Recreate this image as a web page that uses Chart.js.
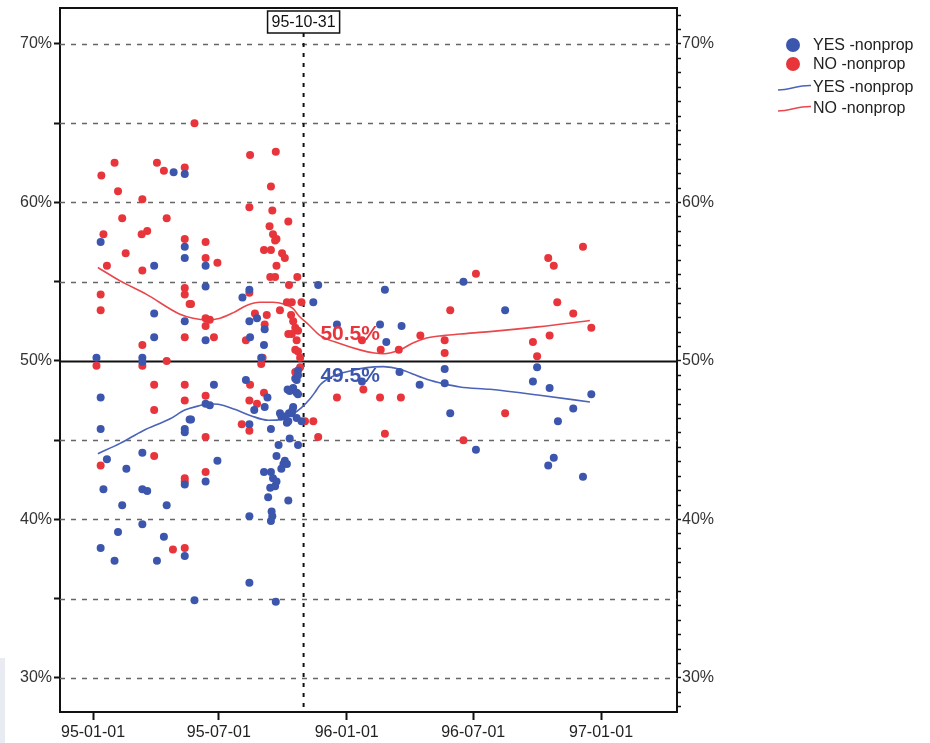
<!DOCTYPE html>
<html>
<head>
<meta charset="utf-8">
<script src="https://cdn.jsdelivr.net/npm/chart.js@4.4.1/dist/chart.umd.min.js"></script>
<style>
  html, body { margin: 0; padding: 0; background: #fff; }
  #wrap { position: relative; width: 930px; height: 743px; }
  #strip { position: absolute; left: 0; top: 658px; width: 5px; height: 85px; background: #e8ecf2; }
</style>
</head>
<body>
<div id="wrap">
  <canvas id="chart" width="930" height="743"></canvas>
  <div id="strip"></div>
</div>
<script>
// days counted from 95-01-01
const tickDays = [0, 181, 365, 547, 731];
const tickLabels = ['95-01-01', '95-07-01', '96-01-01', '96-07-01', '97-01-01'];
const cutoffDay = 303;
const cutoffLabel = '95-10-31';
const seriesNames = ['YES -nonprop', 'NO -nonprop'];
const curveTags = ['49.5%', '50.5%'];
const yGrid = [30, 35, 40, 45, 50, 55, 60, 65, 70];

// polls: [day, percent]
const yesPoints = [
  [116,61.9],[132,61.8],[11,57.5],[132,57.2],[132,56.5],[88,56.0],[88,53.0],[132,52.5],[88,51.5],[5,50.2],
  [71,50.2],[71,49.95],[11,47.7],[11,45.7],[132,45.7],[132,45.5],[139,46.3],[20,43.8],[48,43.2],[71,44.2],
  [15,41.9],[71,41.9],[78,41.8],[42,40.9],[106,40.9],[71,39.7],[36,39.2],[102,38.9],[11,38.2],[31,37.4],
  [92,37.4],[132,42.2],[132,37.7],[146,34.9],
  [162,56.0],[162,54.7],[215,54.0],[225,54.5],[225,52.5],[236,52.7],[247,52.0],[162,51.3],[226,51.5],[246,51.0],
  [242,50.2],[174,48.5],[220,48.8],[251,47.7],[291,48.9],[295,49.4],[288,48.3],[295,47.9],[283,48.1],[293,48.8],
  [295,49.1],[280,48.2],[293,48.0],[162,47.3],[168,47.2],[247,47.1],[232,46.9],[269,46.7],[271,46.5],[288,47.1],
  [286,46.7],[300,46.2],[276,46.5],[281,46.2],[282,46.7],[287,46.9],[293,46.4],[279,46.1],[256,45.7],[141,46.3],
  [225,46.0],[267,44.7],[264,44.0],[276,43.7],[274,43.5],[271,43.2],[279,43.5],[283,45.1],[295,44.7],[179,43.7],
  [246,43.0],[256,43.0],[259,42.6],[264,42.4],[262,42.1],[255,42.0],[252,41.4],[281,41.2],[162,42.4],[225,40.2],
  [257,40.5],[258,40.2],[256,39.9],[225,36.0],[263,34.8],
  [324,54.8],[317,53.7],[420,54.5],[533,55.0],[351,52.3],[413,52.3],[444,52.2],[422,51.2],[387,48.7],[441,49.3],
  [470,48.5],[506,49.5],[506,48.6],[514,46.7],[551,44.4],[593,53.2],[639,49.6],[633,48.7],[657,48.3],[717,47.9],
  [691,47.0],[669,46.2],[663,43.9],[655,43.4],[705,42.7]
];

const noPoints = [
  [12,61.7],[31,62.5],[36,60.7],[92,62.5],[102,62.0],[132,62.2],[71,60.2],[42,59.0],[106,59.0],[15,58.0],
  [70,58.0],[78,58.2],[47,56.8],[132,57.7],[20,56.0],[71,55.7],[11,54.2],[11,53.2],[132,54.6],[132,54.2],
  [139,53.6],[132,51.5],[71,51.0],[5,49.7],[71,49.7],[106,50.0],[88,48.5],[132,48.5],[88,46.9],[132,47.5],
  [88,44.0],[11,43.4],[132,42.6],[132,42.4],[115,38.1],[132,38.2],
  [146,65.0],[226,63.0],[263,63.2],[256,61.0],[225,59.7],[258,59.5],[281,58.8],[254,58.5],[259,58.0],[264,57.7],
  [262,57.6],[246,57.0],[256,57.0],[272,56.8],[276,56.5],[264,56.0],[255,55.3],[262,55.3],[294,55.3],[282,54.8],
  [162,57.5],[162,56.5],[179,56.2],[225,54.3],[141,53.6],[162,52.7],[168,52.6],[162,52.2],[233,53.0],[250,52.9],
  [247,52.3],[269,53.2],[279,53.7],[286,53.7],[300,53.7],[285,52.9],[288,52.5],[291,52.1],[281,51.7],[286,51.7],
  [295,51.9],[293,51.3],[291,50.7],[174,51.5],[220,51.3],[242,49.8],[244,50.2],[295,50.6],[298,50.2],[298,49.6],
  [291,49.3],
  [162,47.8],[226,48.5],[246,48.0],[225,47.5],[236,47.3],[214,46.0],[225,45.6],[162,45.2],[162,43.0],[305,46.2],
  [317,46.2],[324,45.2],[351,47.7],[389,48.2],[413,47.7],[443,47.7],[420,45.4],[387,51.3],[414,50.7],[440,50.7],
  [471,51.6],[506,51.3],[506,50.5],[514,53.2],[533,45.0],[551,55.5],[593,46.7],[705,57.2],[655,56.5],[663,56.0],
  [668,53.7],[691,53.0],[717,52.1],[657,51.6],[633,51.2],[639,50.3]
];

// smoothed trend lines: [day, percent]
const yesCurve = [
  [7,44.15],[39,44.8],[72,45.6],[111,46.35],[132,46.9],[151,47.15],[166,47.3],[180,47.27],[204,46.95],[228,46.53],
  [252,46.26],[271,46.3],[286,46.6],[300,47.05],[312,47.6],[319,48.0],[327,48.5],[346,49.05],[370,49.37],[394,49.58],
  [418,49.64],[442,49.48],[461,49.16],[480,48.85],[504,48.57],[528,48.36],[571,48.21],[640,47.85],[715,47.41]
];
const noCurve = [
  [7,55.9],[39,55.05],[77,54.2],[125,52.95],[144,52.7],[164,52.6],[183,52.7],[202,53.05],[221,53.5],[240,53.7],
  [259,53.7],[274,53.6],[288,53.3],[296,52.85],[310,52.3],[327,51.6],[355,51.1],[384,50.7],[405,50.5],[418,50.45],
  [442,50.7],[461,51.15],[480,51.45],[504,51.6],[528,51.7],[571,51.85],[640,52.15],[715,52.55]
];

const BLUE = '#3c56ad';
const RED = '#e8353c';
const BLUE_LINE = '#4b63b8';
const RED_LINE = '#ea474c';
const FONT = '"Liberation Sans", Arial, sans-serif';

const toXY = arr => arr.map(p => ({ x: p[0], y: p[1] }));
const isTen = v => Math.abs(v - Math.round(v / 10) * 10) < 1e-6;

// linhas de grade, linha de corte, moldura, legenda
const overlay = {
  id: 'overlay',
  beforeDatasetsDraw(chart) {
    const { ctx, chartArea: a, scales: { x, y } } = chart;
    ctx.save();
    yGrid.forEach(v => {
      const py = Math.round(y.getPixelForValue(v)) + 0.5;
      ctx.beginPath();
      if (v === 50) {
        ctx.setLineDash([]);
        ctx.strokeStyle = '#111';
        ctx.lineWidth = 2.2;
      } else {
        ctx.setLineDash([5, 6]);
        ctx.strokeStyle = '#666';
        ctx.lineWidth = 1.3;
      }
      ctx.moveTo(a.left, py);
      ctx.lineTo(a.right, py);
      ctx.stroke();
    });
    const cx = x.getPixelForValue(cutoffDay);
    ctx.setLineDash([4, 6]);
    ctx.strokeStyle = '#111';
    ctx.lineWidth = 2;
    ctx.beginPath();
    ctx.moveTo(cx, a.top + 25);
    ctx.lineTo(cx, a.bottom);
    ctx.stroke();
    ctx.restore();
  },
  afterDraw(chart) {
    const { ctx, chartArea: a, scales: { x, y } } = chart;
    ctx.save();
    // top of frame
    ctx.strokeStyle = '#111';
    ctx.lineWidth = 2;
    ctx.beginPath();
    ctx.moveTo(a.left - 1, a.top);
    ctx.lineTo(a.right + 1, a.top);
    ctx.stroke();

    // cutoff date box
    const cx = x.getPixelForValue(cutoffDay);
    ctx.font = '16px ' + FONT;
    const w = ctx.measureText(cutoffLabel).width + 8;
    ctx.fillStyle = '#fff';
    ctx.fillRect(cx - w / 2, a.top + 3, w, 22);
    ctx.lineWidth = 1.5;
    ctx.strokeRect(cx - w / 2, a.top + 3, w, 22);
    ctx.fillStyle = '#111';
    ctx.textAlign = 'center';
    ctx.textBaseline = 'middle';
    ctx.fillText(cutoffLabel, cx, a.top + 15);

    // tags next to the trend lines
    ctx.font = 'bold 21px ' + FONT;
    const tx = x.getPixelForValue(cutoffDay + 67);
    ctx.fillStyle = RED;
    ctx.fillText(curveTags[1], tx, y.getPixelForValue(51.7));
    ctx.fillStyle = BLUE;
    ctx.fillText(curveTags[0], tx, y.getPixelForValue(49.05));

    // legend
    const lx = 793;
    const rows = [45, 64, 87, 108];
    ctx.font = '16px ' + FONT;
    ctx.textAlign = 'left';
    ctx.fillStyle = BLUE;
    ctx.beginPath(); ctx.arc(lx, rows[0], 7, 0, Math.PI * 2); ctx.fill();
    ctx.fillStyle = RED;
    ctx.beginPath(); ctx.arc(lx, rows[1], 7, 0, Math.PI * 2); ctx.fill();
    [[BLUE_LINE, rows[2]], [RED_LINE, rows[3]]].forEach(([c, ry]) => {
      ctx.strokeStyle = c;
      ctx.lineWidth = 1.6;
      ctx.beginPath();
      ctx.moveTo(778, ry + 3);
      ctx.bezierCurveTo(790, ry + 3, 798, ry - 2, 811, ry - 1.5);
      ctx.stroke();
    });
    ctx.fillStyle = '#222';
    [seriesNames[0], seriesNames[1], seriesNames[0], seriesNames[1]].forEach((t, i) => {
      ctx.fillText(t, 813, rows[i] + 1);
    });
    ctx.restore();
  }
};

const yMin = 27.85, yMax = 72.27;
const xMin = -47.5, xMax = 840.3;

new Chart(document.getElementById('chart'), {
  type: 'scatter',
  data: {
    datasets: [
      { label: seriesNames[0], data: toXY(yesPoints), backgroundColor: BLUE, borderWidth: 0, pointRadius: 4, pointHoverRadius: 4 },
      { label: seriesNames[1], data: toXY(noPoints), backgroundColor: RED, borderWidth: 0, pointRadius: 4, pointHoverRadius: 4 },
      { label: seriesNames[0], data: toXY(yesCurve), showLine: true, borderColor: BLUE_LINE, borderWidth: 1.6, pointRadius: 0, cubicInterpolationMode: 'monotone' },
      { label: seriesNames[1], data: toXY(noCurve), showLine: true, borderColor: RED_LINE, borderWidth: 1.6, pointRadius: 0, cubicInterpolationMode: 'monotone' }
    ]
  },
  options: {
    responsive: false,
    animation: false,
    devicePixelRatio: 1,
    layout: { padding: { top: 8, left: 0, right: 0, bottom: 0 } },
    plugins: { legend: { display: false }, tooltip: { enabled: false } },
    scales: {
      x: {
        type: 'linear', min: xMin, max: xMax,
        afterBuildTicks: s => { s.ticks = tickDays.map(v => ({ value: v })); },
        afterFit: s => { s.height = 31; s.paddingLeft = 0; s.paddingRight = 0; },
        ticks: {
          autoSkip: false, maxRotation: 0, padding: 3, color: '#222',
          font: { family: FONT, size: 16 },
          callback: v => { const i = tickDays.indexOf(v); return i >= 0 ? tickLabels[i] : ''; }
        },
        grid: { drawOnChartArea: false, tickLength: 8, tickColor: '#111', tickWidth: 2 },
        border: { color: '#111', width: 2 }
      },
      y: {
        position: 'left', min: yMin, max: yMax,
        afterBuildTicks: s => { s.ticks = yGrid.map(v => ({ value: v })); },
        afterFit: s => { s.width = 60; s.paddingTop = 0; s.paddingBottom = 0; },
        ticks: {
          padding: 2, color: '#333',
          font: { family: FONT, size: 16 },
          callback: v => isTen(v) ? v + '%' : ''
        },
        grid: { drawOnChartArea: false, tickLength: 6, tickColor: '#111', tickWidth: 2 },
        border: { color: '#111', width: 2 }
      },
      y2: {
        position: 'right', min: yMin, max: yMax,
        afterBuildTicks: s => {
          const t = [];
          for (let k = -2; k <= 46; k++) {
            const v = 30 + k * 10 / 11;
            if (v >= yMin && v <= yMax) t.push({ value: v });
          }
          s.ticks = t;
        },
        afterFit: s => { s.width = 930 - 677; s.paddingTop = 0; s.paddingBottom = 0; },
        ticks: {
          padding: 1, color: '#333', autoSkip: false,
          font: { family: FONT, size: 16 },
          callback: v => isTen(v) ? Math.round(v) + '%' : ''
        },
        grid: { drawOnChartArea: false, tickLength: 4, tickColor: '#111', tickWidth: 1.5 },
        border: { color: '#111', width: 2 }
      }
    }
  },
  plugins: [overlay]
});
</script>
</body>
</html>
